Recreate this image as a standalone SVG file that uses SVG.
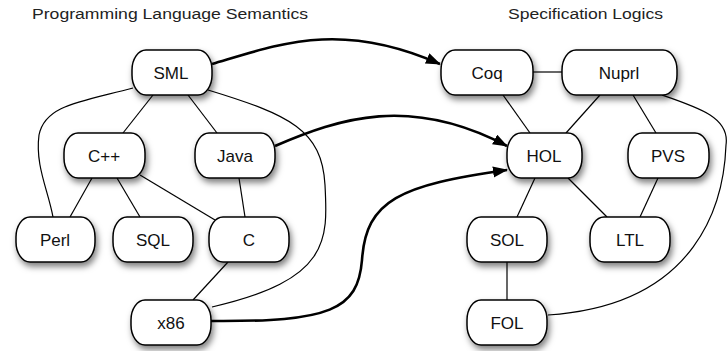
<svg xmlns="http://www.w3.org/2000/svg" width="727" height="351" viewBox="0 0 727 351">
<style>
.title{font-family:"Liberation Sans",Arial,sans-serif;font-size:15.5px;fill:#222}
.node rect{fill:#fff;stroke:#000;stroke-width:1.5;filter:url(#sh)}
.node text{font-family:"Liberation Sans",Arial,sans-serif;font-size:17px;fill:#111;text-anchor:middle}
.e{fill:none;stroke:#000;stroke-width:1.2}
.a{fill:none;stroke:#000;stroke-width:2.6;marker-end:url(#arr)}
</style>
<defs>
<filter id="sh" x="-30%" y="-30%" width="160%" height="170%">
<feDropShadow dx="2" dy="4" stdDeviation="3" flood-color="#000" flood-opacity="0.5"/>
</filter>
<marker id="arr" markerUnits="userSpaceOnUse" markerWidth="16" markerHeight="12" refX="14" refY="5.5" orient="auto">
<path d="M0,0 L15,5.5 L0,11 z" fill="#000"/>
</marker>
</defs>
<text class="title" x="32" y="18.5" textLength="276" lengthAdjust="spacingAndGlyphs">Programming Language Semantics</text>
<text class="title" x="508" y="18.5" textLength="155" lengthAdjust="spacingAndGlyphs">Specification Logics</text>
<g id="connectors">
<path class="e" d="M153,95 L123,133"/>
<path class="e" d="M188,95 L217,133"/>
<path class="e" d="M133,88 C80,102 45,105 39,135 C35,165 48,190 53,217"/>
<path class="e" d="M208,90 C290,115 322,130 325,185 C328,240 330,280 212,307"/>
<path class="e" d="M92,178 L70,217"/>
<path class="e" d="M117,178 L140,217"/>
<path class="e" d="M140,175 L215,220"/>
<path class="e" d="M239,178 L245,217"/>
<path class="e" d="M228,262 L193,300"/>
<path class="e" d="M533,72 L562,72"/>
<path class="e" d="M503,95 L530,133"/>
<path class="e" d="M600,95 L566,133"/>
<path class="e" d="M633,95 L656,133"/>
<path class="e" d="M662,95 C700,108 730,118 726,145 C724,200 700,305 548,315"/>
<path class="e" d="M535,178 L517,217"/>
<path class="e" d="M568,178 L607,217"/>
<path class="e" d="M658,178 L640,217"/>
<path class="e" d="M507,262 L507,300"/>
<path class="a" d="M212,64 C280,44 340,20 440,64"/>
<path class="a" d="M275,146 C340,118 410,95 507,146"/>
<path class="a" d="M211,321 C330,322 358,310 362,260 C366,200 400,185 507,170"/>
</g>
<g id="n-sml" class="node"><rect x="132" y="50" width="80" height="45" rx="14" ry="20"/><text x="171" y="78.5">SML</text></g>
<g id="n-cpp" class="node"><rect x="64" y="133" width="81" height="45" rx="14" ry="20"/><text x="104" y="161.5">C++</text></g>
<g id="n-java" class="node"><rect x="195" y="133" width="80" height="45" rx="14" ry="20"/><text x="235" y="161.5">Java</text></g>
<g id="n-perl" class="node"><rect x="16" y="217" width="79" height="45" rx="14" ry="20"/><text x="55" y="245.5">Perl</text></g>
<g id="n-sql" class="node"><rect x="113" y="217" width="80" height="45" rx="14" ry="20"/><text x="153" y="245.5">SQL</text></g>
<g id="n-c" class="node"><rect x="209" y="217" width="80" height="45" rx="14" ry="20"/><text x="249" y="245.5">C</text></g>
<g id="n-x86" class="node"><rect x="131" y="300" width="80" height="45" rx="14" ry="20"/><text x="171" y="328.5">x86</text></g>
<g id="n-coq" class="node"><rect x="441" y="50" width="92" height="45" rx="14" ry="20"/><text x="487" y="78.5">Coq</text></g>
<g id="n-nuprl" class="node"><rect x="562" y="50" width="115" height="45" rx="14" ry="20"/><text x="619" y="78.5">Nuprl</text></g>
<g id="n-hol" class="node"><rect x="507" y="133" width="75" height="45" rx="14" ry="20"/><text x="544" y="161.5">HOL</text></g>
<g id="n-pvs" class="node"><rect x="628" y="133" width="81" height="45" rx="14" ry="20"/><text x="668" y="161.5">PVS</text></g>
<g id="n-sol" class="node"><rect x="467" y="217" width="80" height="45" rx="14" ry="20"/><text x="507" y="245.5">SOL</text></g>
<g id="n-ltl" class="node"><rect x="590" y="217" width="80" height="45" rx="14" ry="20"/><text x="630" y="245.5">LTL</text></g>
<g id="n-fol" class="node"><rect x="467" y="300" width="80" height="45" rx="14" ry="20"/><text x="507" y="328.5">FOL</text></g>
</svg>
